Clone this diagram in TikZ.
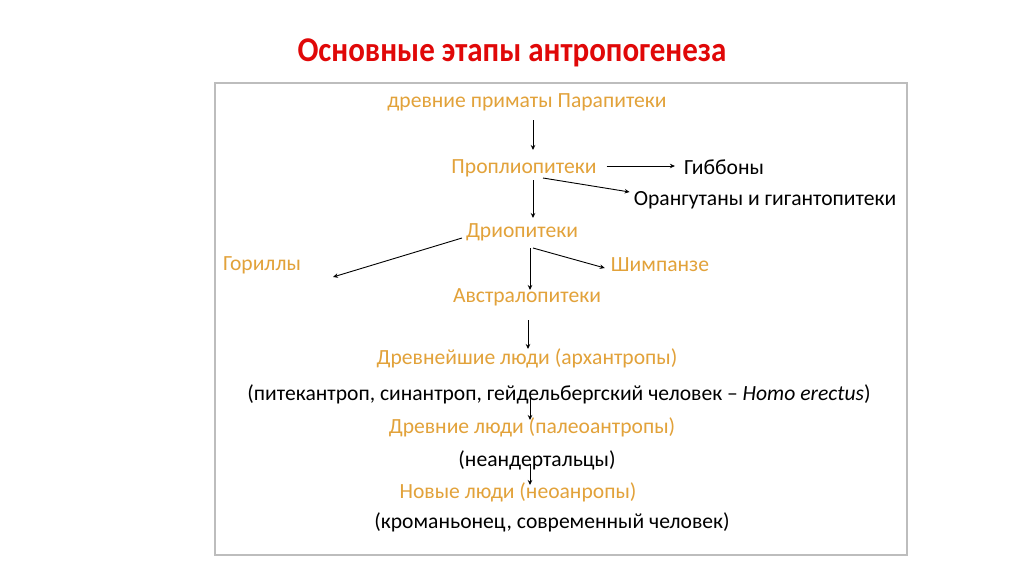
\documentclass[tikz,border=0pt]{standalone}
\usepackage{fontspec}
\setmainfont{Carlito}
\usetikzlibrary{arrows.meta}
\definecolor{ttlred}{HTML}{E00808}
\definecolor{orng}{HTML}{E2A23A}
\definecolor{frm}{HTML}{BDBDBD}
\tikzset{
  orn/.style={inner sep=0pt, text=orng, font=\fontsize{21.6}{24}\selectfont},
  blk/.style={inner sep=0pt, text=black, font=\fontsize{21.6}{24}\selectfont},
  arr/.style={-{Stealth[length=5pt,width=4.5pt]}, line width=0.9pt, black}
}
\begin{document}
\begin{tikzpicture}[x=1pt,y=-1pt]
\useasboundingbox (0,0) rectangle (1024,574);
\fill[white] (0,0) rectangle (1024,574);
\draw[frm, line width=1.3pt] (215,83) rectangle (907,555);
\node[inner sep=0pt, text=ttlred, font=\bfseries\fontsize{31}{34}\selectfont] (title) at (512,53) {\scalebox{1}[1.12]{Основные этапы антропогенеза}};

\node[orn] (par) at (527,102) {древние приматы Парапитеки};
\node[orn] (pro) at (524,168) {Проплиопитеки};
\node[blk] (gib) at (724,167) {Гиббоны};
\node[blk] (ora) at (765,200) {Орангутаны и гигантопитеки};
\node[orn] (dri) at (522,232) {Дриопитеки};
\node[orn] (gor) at (262,265) {Гориллы};
\node[orn] (shi) at (660,265) {Шимпанзе};
\node[orn] (avs) at (527,297) {Австралопитеки};
\node[orn] (arh) at (527,358) {Древнейшие люди (архантропы)};
\node[blk] (arhx) at (559,394) {(питекантроп, синантроп, гейдельбергский человек~– \textit{Homo erectus})};
\node[orn] (pal) at (532,427) {Древние люди (палеоантропы)};
\node[blk] (nea) at (537,460) {(неандертальцы)};
\node[orn] (neo) at (518,492) {Новые люди (неоанропы)};
\node[blk] (kro) at (552,522) {(кроманьонец, современный человек)};

\draw[arr] ([shift={(6,18)}]par.center) -- ([shift={(9,-18)}]pro.center);
\draw[arr] ([shift={(10,-2)}]pro.east) -- ([shift={(-9,-1)}]gib.west);
\draw[arr] ([shift={(19,10)}]pro.center) -- ([shift={(-4,-8)}]ora.west);
\draw[arr] ([shift={(9,12)}]pro.center) -- ([shift={(11,-14)}]dri.center);
\draw[arr] ([shift={(-60,6)}]dri.center) -- ([shift={(71,12)}]gor.center);
\draw[arr] ([shift={(11,16)}]dri.center) -- ([shift={(-6,3)}]shi.west);
\draw[arr] ([shift={(8,16)}]dri.center) -- ([shift={(3,-7)}]avs.center);
\draw[arr] ([shift={(1,23)}]avs.center) -- ([shift={(1,-9)}]arh.center);
\draw[arr] ([shift={(-29,4)}]arhx.center) -- ([shift={(-2,-7)}]pal.center);
\draw[arr] ([shift={(-7,4)}]nea.center) -- ([shift={(12,-7)}]neo.center);
\end{tikzpicture}
\end{document}
